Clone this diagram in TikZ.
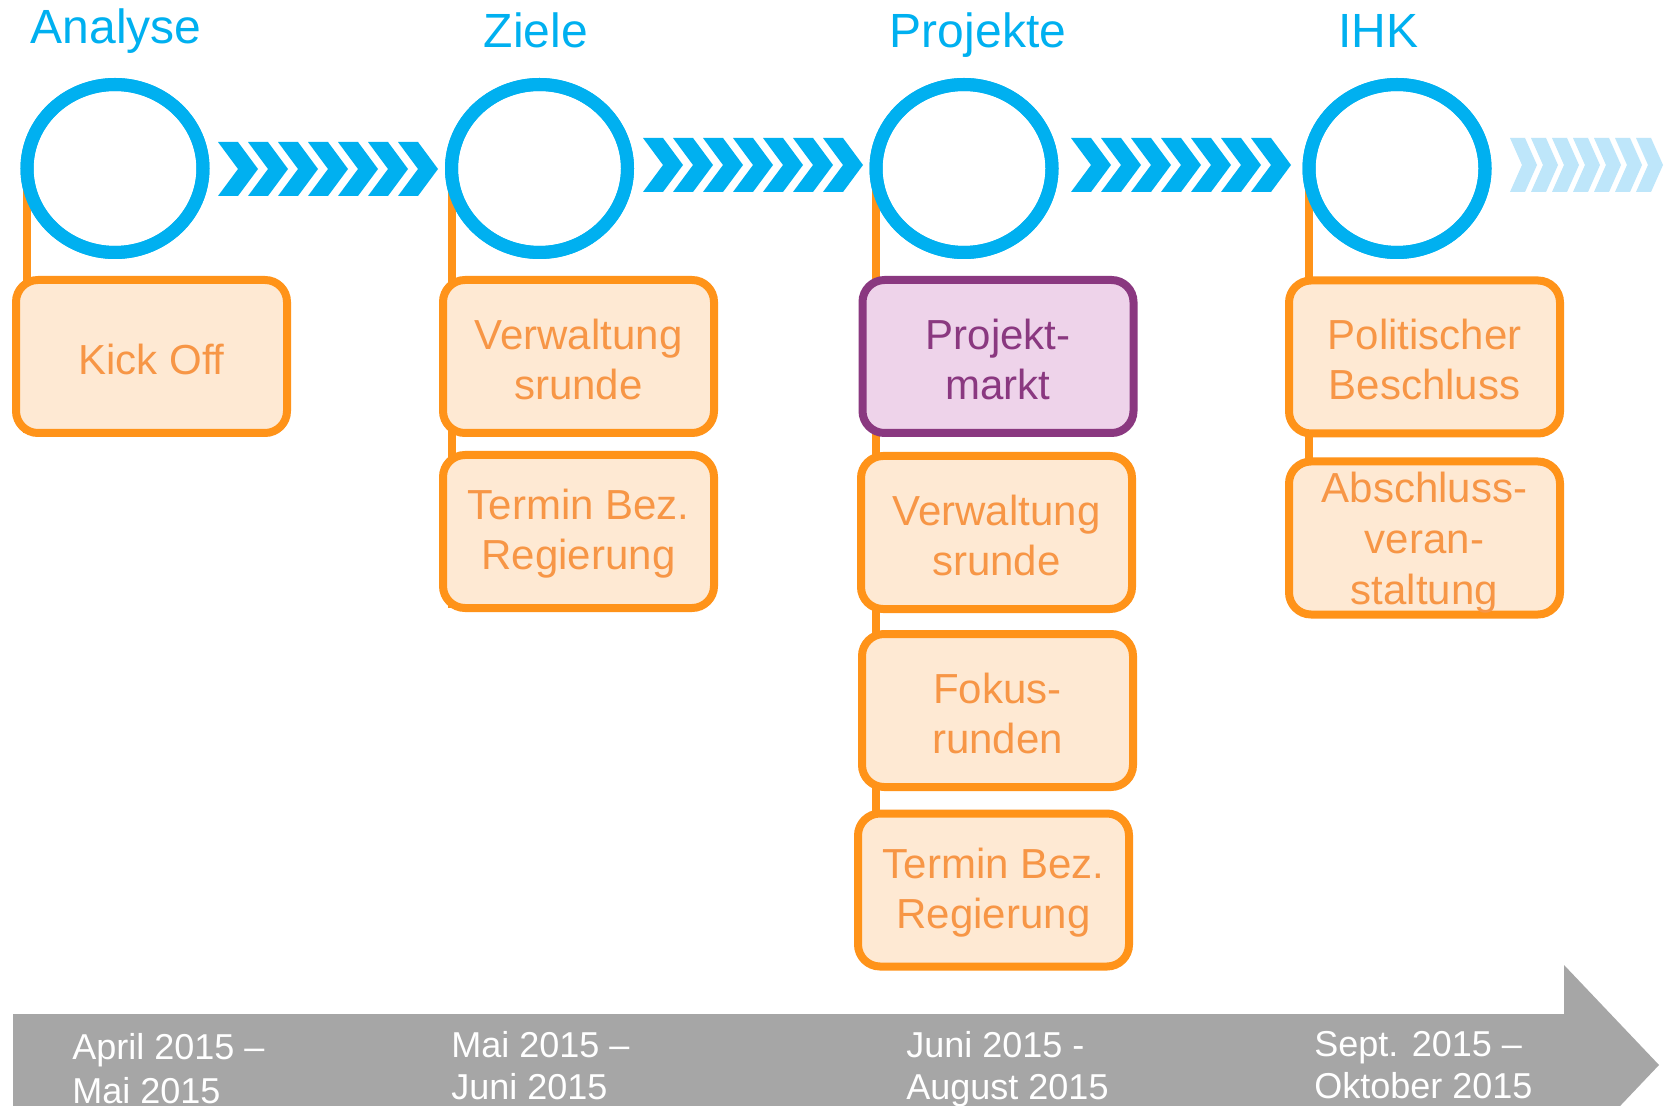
\documentclass[tikz,border=0pt]{standalone}
\usepackage{fontspec}
\setmainfont{Liberation Sans}
\usetikzlibrary{shapes.geometric}
\definecolor{blueC}{RGB}{0,176,240}
\definecolor{orangeB}{RGB}{255,147,25}
\definecolor{orangeF}{RGB}{254,233,211}
\definecolor{orangeT}{RGB}{247,150,70}
\definecolor{purpleB}{RGB}{138,56,128}
\definecolor{purpleF}{RGB}{238,211,234}
\definecolor{lightB}{RGB}{190,230,250}
\definecolor{grayA}{RGB}{166,166,166}
\newcommand{\mystrut}[1]{\rule{0pt}{#1}}
\begin{document}
\begin{tikzpicture}[x=0.5pt,y=-0.5pt,
  ring/.style={ellipse, draw=blueC, line width=6.5pt, minimum width=88pt, minimum height=84pt, inner sep=0pt, outer sep=0pt},
  obox/.style={rectangle, rounded corners=11pt, draw=orangeB, fill=orangeF, line width=4pt, minimum width=135.5pt, minimum height=76.5pt, inner sep=0pt, outer sep=0pt, text=orangeT, font={\fontsize{21pt}{25pt}\selectfont}, align=center},
  pbox/.style={obox, draw=purpleB, fill=purpleF, text=purpleB},
  vline/.style={draw=orangeB, line width=4pt},
  title/.style={text=blueC, font={\fontsize{24pt}{28pt}\selectfont}, inner sep=0pt, anchor=base},
  dlabel/.style={text=white, font={\fontsize{18pt}{21pt}\selectfont}, inner sep=0pt, align=left, anchor=north west}
]
\useasboundingbox (0,0) rectangle (1669,1106);
\fill[white] (0,0) rectangle (1669,1106);
\clip (0,0) rectangle (1669,1106);

% bottom gray arrow
\fill[grayA] (13,1014) -- (1564,1014) -- (1564,965) -- (1659,1065) -- (1564,1165) -- (1564,1116) -- (13,1116) -- cycle;

% chevrons
\foreach \i in {0,...,6} {
  \fill[blueC] ({218+30*\i},142) -- ++(20,0) -- ++(20,27) -- ++(-20,27) -- ++(-20,0) -- ++(20,-27) -- cycle;
  \fill[blueC] ({643+30*\i},138) -- ++(20,0) -- ++(20,27) -- ++(-20,27) -- ++(-20,0) -- ++(20,-27) -- cycle;
  \fill[blueC] ({1071+30*\i},138) -- ++(20,0) -- ++(20,27) -- ++(-20,27) -- ++(-20,0) -- ++(20,-27) -- cycle;
  \fill[lightB] ({1510+21*\i},138) -- ++(15,0) -- ++(12,27) -- ++(-12,27) -- ++(-15,0) -- ++(12,-27) -- cycle;
}

\path (115,168.5) coordinate (p1) (539.5,168.5) coordinate (p2) (964,168.5) coordinate (p3) (1397,168.5) coordinate (p4);

\path (151.5,356.5) coordinate (q1)
      (578.5,356.5) coordinate (q2a) (578.5,531.5) coordinate (q2b)
      (998,356.5) coordinate (q3a) (996.5,532.5) coordinate (q3b) (997.5,710.5) coordinate (q3c) (993.5,890) coordinate (q3d)
      (1424.5,357) coordinate (q4a) (1424.5,538) coordinate (q4b);

\node[ring] (c1) at (p1) {};
\node[ring] (c2) at (p2) {};
\node[ring] (c3) at (p3) {};
\node[ring] (c4) at (p4) {};

% connectors (behind boxes)
\draw[vline] (c1.west) -- (c1.west |- 0,433);
\draw[vline] (c2.west) -- (c2.west |- 0,608);
\draw[vline] (c3.west) -- (c3.west |- 0,940);
\draw[vline] (c4.west) -- (c4.west |- 0,610);

% rings over the connectors
\node[ring] at (p1) {};
\node[ring] at (p2) {};
\node[ring] at (p3) {};
\node[ring] at (p4) {};

\node[obox] (k1) at (q1) {\mystrut{17.8pt}Kick Off};
\node[obox] (z1) at (q2a) {\mystrut{17.8pt}Verwaltung\\srunde};
\node[obox] (z2) at (q2b) {\mystrut{17.8pt}Termin Bez.\\Regierung};
\node[pbox] (r1) at (q3a) {\mystrut{17.8pt}Projekt-\\markt};
\node[obox] (r2) at (q3b) {\mystrut{17.8pt}Verwaltung\\srunde};
\node[obox] (r3) at (q3c) {\mystrut{17.8pt}Fokus-\\runden};
\node[obox] (r4) at (q3d) {\mystrut{17.8pt}Termin Bez.\\Regierung};
\node[obox] (i1) at (q4a) {\mystrut{17.8pt}Politischer\\Beschluss};
\node[obox, font={\fontsize{21pt}{25.5pt}\selectfont}] (i2) at (q4b) {\mystrut{20pt}Abschluss-\\veran-\\staltung};

% titles
\node[title] (t1) at (116,44) {Analyse};
\node[title] (t2) at (536,48) {Ziele};
\node[title] (t3) at (978,48) {Projekte};
\node[title] (t4) at (1378,48) {IHK};

% dates
\node[dlabel, font={\fontsize{18pt}{22pt}\selectfont}] (d1) at (72,1033) {April 2015 –\\Mai 2015};
\node[dlabel] (d2) at (451,1031) {Mai 2015 –\\Juni 2015};
\node[dlabel] (d3) at (906,1031) {Juni 2015 -\\August 2015};
\node[dlabel] (d4) at (1314,1031) {Sept. 2015 –\\Oktober 2015};
\end{tikzpicture}
\end{document}
